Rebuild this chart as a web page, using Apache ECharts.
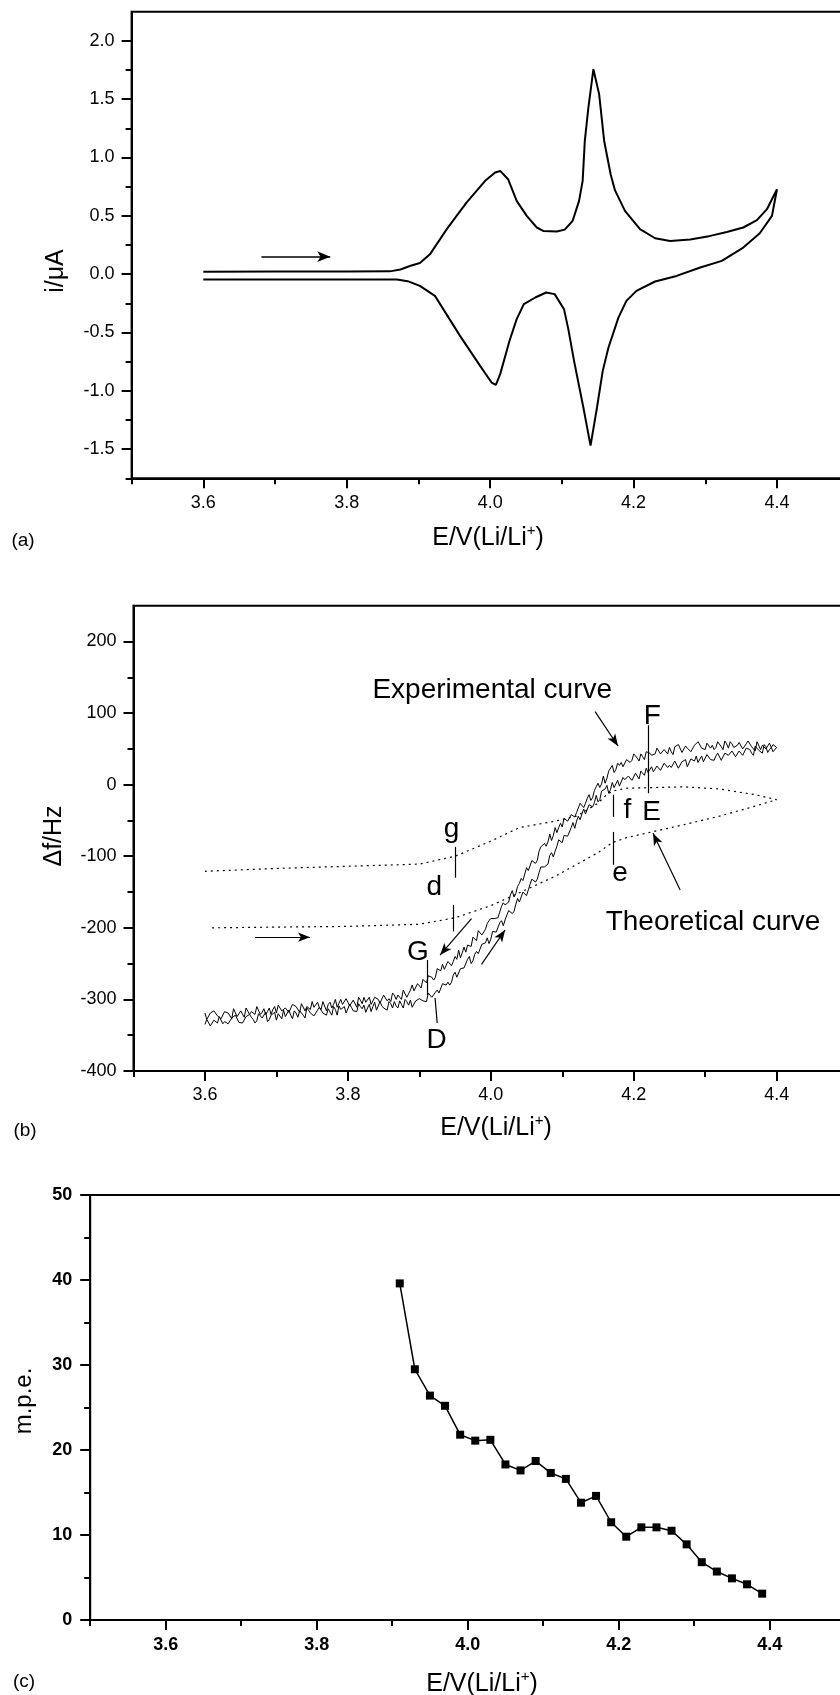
<!DOCTYPE html>
<html>
<head>
<meta charset="utf-8">
<script src="https://cdn.jsdelivr.net/npm/echarts@6/dist/echarts.min.js"></script>
<style>
  html, body { margin: 0; padding: 0; background: #fff; }
  #c { width: 840px; height: 1695px; }
</style>
</head>
<body>
<div id="c"></div>
<script>
// ---------- (a) cyclic voltammogram: anodic sweep then cathodic return ----------
const cvE = [3.60, 3.70, 3.80, 3.86, 3.875, 3.888, 3.902, 3.916, 3.94, 3.967,
  3.993, 4.007, 4.014, 4.025, 4.037, 4.051, 4.065, 4.074, 4.093, 4.104,
  4.115, 4.124, 4.129, 4.132, 4.137, 4.144, 4.152, 4.159, 4.168, 4.174,
  4.188, 4.209, 4.230, 4.251, 4.279, 4.307, 4.330, 4.353, 4.372, 4.386,
  4.400,
  4.393, 4.376, 4.353, 4.323, 4.293, 4.260, 4.230, 4.204, 4.190, 4.179,
  4.165, 4.157, 4.149, 4.140, 4.130, 4.117, 4.109, 4.103, 4.090, 4.078,
  4.063, 4.047, 4.037, 4.027, 4.014, 4.008, 4.002, 3.986, 3.958, 3.923,
  3.902, 3.885, 3.870, 3.80, 3.70, 3.60];
const cvI = [0.020, 0.022, 0.022, 0.024, 0.040, 0.070, 0.095, 0.170, 0.390, 0.614,
  0.800, 0.871, 0.885, 0.814, 0.628, 0.500, 0.400, 0.371, 0.365, 0.382,
  0.457, 0.628, 0.800, 1.143, 1.428, 1.757, 1.542, 1.142, 0.857, 0.720,
  0.542, 0.386, 0.308, 0.285, 0.297, 0.328, 0.362, 0.400, 0.463, 0.557,
  0.728,
  0.500, 0.351, 0.228, 0.114, 0.057, -0.015, -0.063, -0.143, -0.229, -0.371,
  -0.629, -0.829, -1.143, -1.470, -1.143, -0.743, -0.471, -0.300, -0.171, -0.157,
  -0.200, -0.257, -0.386, -0.571, -0.857, -0.949, -0.929, -0.786, -0.529, -0.186,
  -0.100, -0.060, -0.045, -0.045, -0.045, -0.045];
// sweep direction arrow [E1, i1, E2, i2]
const cvArrow = [3.681, 0.15, 3.777, 0.15];

// ---------- (b) EQCM frequency shift, sampled every 2.5 mV ----------
// potentials on the 5 mV grid
const expE = [
  3.600,3.605,3.610,3.615,3.620,3.625,3.630,3.635,3.640,3.645,
  3.650,3.655,3.660,3.665,3.670,3.675,3.680,3.685,3.690,3.695,
  3.700,3.705,3.710,3.715,3.720,3.725,3.730,3.735,3.740,3.745,
  3.750,3.755,3.760,3.765,3.770,3.775,3.780,3.785,3.790,3.795,
  3.800,3.805,3.810,3.815,3.820,3.825,3.830,3.835,3.840,3.845,
  3.850,3.855,3.860,3.865,3.870,3.875,3.880,3.885,3.890,3.895,
  3.900,3.905,3.910,3.915,3.920,3.925,3.930,3.935,3.940,3.945,
  3.950,3.955,3.960,3.965,3.970,3.975,3.980,3.985,3.990,3.995,
  4.000,4.005,4.010,4.015,4.020,4.025,4.030,4.035,4.040,4.045,
  4.050,4.055,4.060,4.065,4.070,4.075,4.080,4.085,4.090,4.095,
  4.100,4.105,4.110,4.115,4.120,4.125,4.130,4.135,4.140,4.145,
  4.150,4.155,4.160,4.165,4.170,4.175,4.180,4.185,4.190,4.195,
  4.200,4.205,4.210,4.215,4.220,4.225,4.230,4.235,4.240,4.245,
  4.250,4.255,4.260,4.265,4.270,4.275,4.280,4.285,4.290,4.295,
  4.300,4.305,4.310,4.315,4.320,4.325,4.330,4.335,4.340,4.345,
  4.350,4.355,4.360,4.365,4.370,4.375,4.380,4.385,4.390,4.395,
  4.400];
// potentials between the 5 mV grid points
const expEh = [
  3.6025,3.6075,3.6125,3.6175,3.6225,3.6275,3.6325,3.6375,3.6425,3.6475,
  3.6525,3.6575,3.6625,3.6675,3.6725,3.6775,3.6825,3.6875,3.6925,3.6975,
  3.7025,3.7075,3.7125,3.7175,3.7225,3.7275,3.7325,3.7375,3.7425,3.7475,
  3.7525,3.7575,3.7625,3.7675,3.7725,3.7775,3.7825,3.7875,3.7925,3.7975,
  3.8025,3.8075,3.8125,3.8175,3.8225,3.8275,3.8325,3.8375,3.8425,3.8475,
  3.8525,3.8575,3.8625,3.8675,3.8725,3.8775,3.8825,3.8875,3.8925,3.8975,
  3.9025,3.9075,3.9125,3.9175,3.9225,3.9275,3.9325,3.9375,3.9425,3.9475,
  3.9525,3.9575,3.9625,3.9675,3.9725,3.9775,3.9825,3.9875,3.9925,3.9975,
  4.0025,4.0075,4.0125,4.0175,4.0225,4.0275,4.0325,4.0375,4.0425,4.0475,
  4.0525,4.0575,4.0625,4.0675,4.0725,4.0775,4.0825,4.0875,4.0925,4.0975,
  4.1025,4.1075,4.1125,4.1175,4.1225,4.1275,4.1325,4.1375,4.1425,4.1475,
  4.1525,4.1575,4.1625,4.1675,4.1725,4.1775,4.1825,4.1875,4.1925,4.1975,
  4.2025,4.2075,4.2125,4.2175,4.2225,4.2275,4.2325,4.2375,4.2425,4.2475,
  4.2525,4.2575,4.2625,4.2675,4.2725,4.2775,4.2825,4.2875,4.2925,4.2975,
  4.3025,4.3075,4.3125,4.3175,4.3225,4.3275,4.3325,4.3375,4.3425,4.3475,
  4.3525,4.3575,4.3625,4.3675,4.3725,4.3775,4.3825,4.3875,4.3925,4.3975];
// return (cathodic) branch, upper-left: values on expE
const expUpper = [
  -319,-329,-321,-315,-324,-329,-318,-321,-313,-324,
  -316,-325,-313,-317,-321,-308,-318,-321,-312,-314,
  -319,-308,-316,-311,-319,-308,-312,-306,-316,-308,
  -303,-313,-311,-303,-316,-304,-307,-311,-300,-308,
  -304,-311,-300,-297,-306,-304,-297,-309,-299,-305,
  -294,-302,-303,-294,-294,-300,-289,-292,-280,-288,
  -280,-272,-277,-268,-273,-257,-260,-258,-247,-253,
  -240,-231,-235,-234,-223,-213,-218,-206,-210,-194,
  -187,-187,-186,-170,-168,-164,-148,-152,-138,-134,
  -116,-119,-106,-106,-87,-82,-80,-78,-60,-60,
  -59,-45,-52,-40,-39,-26,-32,-19,-22,-8,
  2,1,2,19,27,21,27,25,35,31,
  43,37,43,35,48,41,43,52,41,48,
  52,42,51,55,46,51,46,55,60,51,
  49,58,55,52,61,49,57,60,52,55,
  59,51,61,53,47,58,55,50,58,46,
  52];
// return branch: values on expEh
const expUpperH = [
  -328,-319,-316,-323,-327,-317,-319,-327,-314,-322,
  -316,-312,-321,-318,-310,-321,-313,-317,-321,-310,
  -308,-316,-312,-318,-307,-310,-318,-308,-310,-314,
  -311,-304,-314,-304,-307,-312,-300,-309,-307,-299,
  -309,-301,-311,-301,-297,-304,-307,-297,-300,-306,
  -294,-299,-291,-300,-297,-287,-297,-287,-288,-278,
  -284,-273,-267,-269,-269,-258,-251,-258,-247,-247,
  -244,-242,-227,-224,-226,-215,-204,-210,-202,-190,
  -186,-188,-178,-165,-168,-154,-157,-142,-131,-132,
  -120,-106,-110,-93,-87,-86,-69,-71,-67,-54,
  -47,-51,-42,-45,-39,-28,-26,-14,-18,-3,
  -4,12,9,19,17,30,31,27,37,34,
  42,33,39,46,44,40,51,43,49,43,
  46,53,56,45,54,50,46,55,58,51,
  58,51,49,60,53,61,51,57,51,59,
  50,57,59,52,60,49,54,51,57,48];
// forward (anodic) branch, lower-right: values on expE
const expLower = [
  -335,-327,-338,-329,-324,-334,-329,-335,-325,-321,
  -330,-332,-323,-325,-333,-320,-326,-318,-328,-322,
  -329,-320,-315,-325,-322,-316,-325,-318,-326,-315,
  -317,-322,-311,-319,-322,-313,-310,-322,-314,-310,
  -318,-311,-315,-306,-313,-318,-307,-310,-315,-303,
  -312,-315,-306,-303,-312,-307,-300,-308,-311,-302,
  -299,-302,-303,-290,-296,-287,-291,-276,-276,-276,
  -262,-268,-257,-254,-240,-246,-233,-236,-223,-214,
  -216,-207,-207,-190,-189,-176,-180,-167,-164,-150,
  -155,-139,-134,-132,-115,-115,-111,-95,-93,-77,
  -81,-69,-71,-53,-51,-49,-34,-40,-26,-25,
  -24,-9,-6,-12,3,-3,-2,10,6,12,
  5,15,19,13,17,25,16,25,21,29,
  27,22,34,25,32,25,36,33,31,40,
  34,43,33,40,44,35,44,41,48,40,
  47,40,50,44,54,48,44,53,49,56,
  52];
// forward branch: values on expEh
const expLowerH = [
  -328,-337,-329,-333,-323,-331,-334,-326,-322,-332,
  -333,-324,-321,-328,-330,-319,-324,-331,-322,-318,
  -320,-327,-324,-315,-327,-319,-316,-322,-312,-319,
  -323,-315,-311,-320,-313,-322,-314,-309,-316,-319,
  -307,-316,-317,-310,-308,-312,-317,-304,-314,-309,
  -313,-303,-312,-309,-302,-312,-303,-301,-309,-300,
  -300,-304,-291,-297,-290,-291,-278,-280,-280,-266,
  -269,-257,-256,-244,-250,-237,-236,-223,-221,-222,
  -205,-206,-193,-197,-182,-177,-177,-159,-162,-150,
  -147,-132,-136,-123,-113,-114,-99,-101,-86,-76,
  -71,-72,-60,-61,-44,-41,-41,-28,-31,-15,
  -21,-9,-1,-7,-4,6,-3,7,12,6,
  16,8,16,23,15,18,26,20,30,24,
  24,33,23,32,35,27,34,40,33,32,
  42,35,34,44,34,44,41,47,39,47,
  41,51,49,41,51,47,56,45,52,55];
// theoretical loop: forward branch to 4.40 V, then back
const theoE = [3.610, 3.700, 3.800, 3.900, 3.950, 4.000, 4.040, 4.090, 4.130, 4.150,
  4.170, 4.190, 4.230, 4.270, 4.320, 4.370, 4.400, 4.370, 4.320, 4.270,
  4.230, 4.190, 4.170, 4.160, 4.150, 4.120, 4.090, 4.040, 4.000, 3.950,
  3.900, 3.800, 3.700, 3.600];
const theoF = [-200, -199, -198, -195, -186, -169, -151, -128, -106, -95,
  -81, -74, -65, -56, -44, -30, -21, -14, -6, -3,
  -4, -5, -9, -16, -26, -44, -51, -60, -79, -100,
  -111, -114, -117, -121];
// point labels [text, E, Δf]
const notesB = [
  ['Experimental curve', 4.002, 132],
  ['Theoretical curve', 4.311, -192],
  ['F', 4.226, 95],
  ['E', 4.225, -38],
  ['f', 4.191, -36],
  ['e', 4.181, -124],
  ['g', 3.945, -63],
  ['d', 3.921, -144],
  ['G', 3.898, -234],
  ['D', 3.924, -357]
];
// short marker strokes [E1, f1, E2, f2]
const markersB = [
  [4.220, 83, 4.220, -12],
  [4.171, -14, 4.171, -45],
  [4.171, -66, 4.171, -112],
  [3.950, -87, 3.950, -130],
  [3.947, -168, 3.947, -205],
  [3.911, -245, 3.911, -294],
  [3.922, -298, 3.925, -333]
];
// arrows [E1, f1, E2, f2], head at the second point
const arrowsB = [
  [4.146, 102, 4.178, 54],
  [4.265, -147, 4.227, -68],
  [3.670, -213, 3.747, -213],
  [3.987, -251, 4.020, -203],
  [3.973, -187, 3.929, -238]
];

// ---------- (c) m.p.e. ----------
const mpeE = [3.91, 3.93, 3.95, 3.97, 3.99, 4.01, 4.03, 4.05, 4.07, 4.09,
  4.11, 4.13, 4.15, 4.17, 4.19, 4.21, 4.23, 4.25, 4.27, 4.29,
  4.31, 4.33, 4.35, 4.37, 4.39];
const mpeV = [39.6, 29.5, 26.4, 25.2, 21.8, 21.1, 21.2, 18.3, 17.6, 18.7,
  17.3, 16.6, 13.8, 14.6, 11.5, 9.8, 10.9, 10.9, 10.5, 8.9,
  6.8, 5.7, 4.9, 4.2, 3.1];

// ---------- tick positions ----------
const eMajor = [3.6, 3.8, 4.0, 4.2, 4.4];
const eMinor = [3.5, 3.7, 3.9, 4.1, 4.3, 4.5];
const iMajor = [-1.5, -1.0, -0.5, 0.0, 0.5, 1.0, 1.5, 2.0];
const iMinor = [-1.75, -1.25, -0.75, -0.25, 0.25, 0.75, 1.25, 1.75];
const fMajor = [-400, -300, -200, -100, 0, 100, 200];
const fMinor = [-350, -250, -150, -50, 50, 150];
const mMajor = [0, 10, 20, 30, 40, 50];
const mMinor = [5, 15, 25, 35, 45];

const FONT = '"Liberation Sans", Arial, Helvetica, sans-serif';
const zip = (a, b) => a.map((v, i) => [v, b[i]]);
// merge the two sample sets of a branch in potential order
function weave(eA, vA, eB, vB) {
  const out = [];
  for (let i = 0; i < eA.length; i++) {
    out.push([eA[i], vA[i]]);
    if (i < eB.length) out.push([eB[i], vB[i]]);
  }
  return out;
}

function axisPair(dim, grid, min, max, majors, minors, margin, fmt, bold) {
  const pos = dim === 'x' ? 'bottom' : 'left';
  const tickStyle = { color: '#000', width: 2 };
  return [
    {
      type: 'value', gridIndex: grid, position: pos, min: min, max: max,
      axisLine: { show: true, onZero: false, lineStyle: { color: '#000', width: 2 } },
      axisTick: { show: true, inside: false, length: 10, lineStyle: tickStyle, customValues: majors },
      axisLabel: {
        show: true, customValues: majors, margin: margin, color: '#000',
        fontSize: 18, fontFamily: FONT, fontWeight: bold ? 'bold' : 'normal', formatter: fmt
      },
      splitLine: { show: false }
    },
    {
      type: 'value', gridIndex: grid, position: pos, min: min, max: max,
      axisLine: { show: false, onZero: false },
      axisTick: { show: true, inside: false, length: 6, lineStyle: tickStyle, customValues: minors },
      axisLabel: { show: false },
      splitLine: { show: false }
    }
  ];
}
const f1 = v => v.toFixed(1);
const f0 = v => String(Math.round(v));

const gridBase = { show: true, borderColor: '#000', borderWidth: 2, backgroundColor: 'transparent', containLabel: false, outerBoundsMode: 'none' };

function xTitle(x, y) {
  return {
    type: 'text', x: x, y: y, silent: true,
    style: {
      text: '{m|E/V(Li/Li}{s|+}{m|)}',
      rich: {
        m: { fontSize: 25, fontFamily: FONT, fill: '#000', lineHeight: 30 },
        s: { fontSize: 15, fontFamily: FONT, fill: '#000', lineHeight: 14, verticalAlign: 'top' }
      },
      align: 'center', verticalAlign: 'middle'
    }
  };
}
function plainText(txt, x, y, size, rot) {
  return {
    type: 'text', x: x, y: y, rotation: rot || 0, silent: true,
    style: { text: txt, fontSize: size, fontFamily: FONT, fill: '#000', align: 'center', verticalAlign: 'middle' }
  };
}
function segs(list, headed) {
  return list.map(s => [
    { coord: [s[0], s[1]], symbol: 'none' },
    { coord: [s[2], s[3]], symbol: headed ? 'arrow' : 'none' }
  ]);
}

const option = {
  animation: false,
  backgroundColor: '#fff',
  grid: [
    Object.assign({ left: 131.6, top: 11.7, width: 717.1, height: 466.6 }, gridBase),
    Object.assign({ left: 133.5, top: 605.7, width: 714.6, height: 465.3 }, gridBase),
    Object.assign({ left: 90.2, top: 1195, width: 755, height: 425 }, gridBase)
  ],
  xAxis: [].concat(
    axisPair('x', 0, 3.5, 4.5, eMajor, eMinor, 16, f1, false),
    axisPair('x', 1, 3.5, 4.5, eMajor, eMinor, 15, f1, false),
    axisPair('x', 2, 3.5, 4.5, eMajor, eMinor, 16, f1, true)
  ),
  yAxis: [].concat(
    axisPair('y', 0, -1.75, 2.25, iMajor, iMinor, 17, f1, false),
    axisPair('y', 1, -400, 250, fMajor, fMinor, 17, f0, false),
    axisPair('y', 2, 0, 50, mMajor, mMinor, 18, f0, true)
  ),
  series: [
    {
      type: 'line', xAxisIndex: 0, yAxisIndex: 0, data: zip(cvE, cvI),
      symbol: 'none', smooth: false, silent: true,
      lineStyle: { color: '#000', width: 2 },
      markLine: {
        silent: true, animation: false, label: { show: false }, symbolSize: [8, 13],
        lineStyle: { color: '#000', width: 1.5, type: 'solid' },
        data: segs([cvArrow], true)
      }
    },
    {
      type: 'line', xAxisIndex: 2, yAxisIndex: 2, data: weave(expE, expUpper, expEh, expUpperH),
      symbol: 'none', silent: true, lineStyle: { color: '#000', width: 1 },
      markLine: {
        silent: true, animation: false, label: { show: false }, symbolSize: [7, 12],
        lineStyle: { color: '#000', width: 1.2, type: 'solid' },
        data: segs(arrowsB, true)
      }
    },
    {
      type: 'line', xAxisIndex: 2, yAxisIndex: 2, data: weave(expE, expLower, expEh, expLowerH),
      symbol: 'none', silent: true, lineStyle: { color: '#000', width: 1 }
    },
    {
      type: 'line', xAxisIndex: 2, yAxisIndex: 2, data: zip(theoE, theoF),
      symbol: 'none', silent: true, lineStyle: { color: '#000', width: 1.2, type: [2, 4] },
      markLine: {
        silent: true, animation: false, label: { show: false },
        lineStyle: { color: '#000', width: 1.2, type: 'solid' },
        data: segs(markersB, false)
      }
    },
    {
      type: 'line', xAxisIndex: 4, yAxisIndex: 4, data: zip(mpeE, mpeV),
      symbol: 'rect', symbolSize: 8, showSymbol: true, silent: true,
      itemStyle: { color: '#000' }, lineStyle: { color: '#000', width: 1.5 }
    }
  ]
};

const chart = echarts.init(document.getElementById('c'), null, { renderer: 'canvas' });
chart.setOption(option);

// titles and panel letters, plus the (b) point labels placed through the (b) axes
const titles = [
  plainText('i/μA', 56, 271, 25, Math.PI / 2),
  xTitle(488, 538),
  plainText('(a)', 23, 541, 19),
  plainText('Δf/Hz', 54, 836, 25, Math.PI / 2),
  xTitle(496, 1128),
  plainText('(b)', 25, 1131, 19),
  plainText('m.p.e.', 24, 1401, 24, Math.PI / 2),
  xTitle(482, 1684),
  plainText('(c)', 24, 1682, 19)
];
const notes = notesB.map(n => {
  const p = chart.convertToPixel({ seriesIndex: 1 }, [n[1], n[2]]);
  return plainText(n[0], p[0], p[1], 28);
});
chart.setOption({ graphic: titles.concat(notes) });
</script>
</body>
</html>
